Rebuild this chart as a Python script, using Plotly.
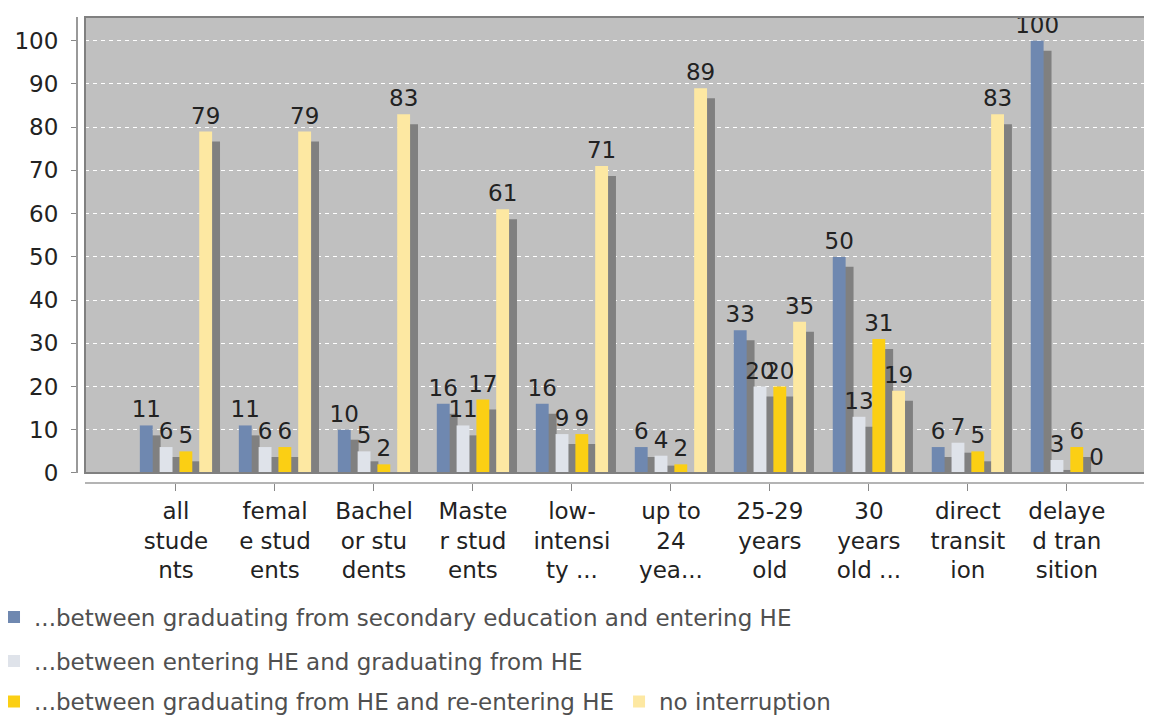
import plotly.graph_objs as go

categories = ["all<br>stude<br>nts", "femal<br>e stud<br>ents", "Bachel<br>or stu<br>dents",
              "Maste<br>r stud<br>ents", "low-<br>intensi<br>ty ...", "up to<br>24<br>yea...",
              "25-29<br>years<br>old", "30<br>years<br>old ...", "direct<br>transit<br>ion",
              "delaye<br>d tran<br>sition"]
sec_to_he = [11, 11, 10, 16, 16, 6, 33, 50, 6, 100]
within_he = [6, 6, 5, 11, 9, 4, 20, 13, 7, 3]
he_to_he = [5, 6, 2, 17, 9, 2, 20, 31, 5, 6]
no_interruption = [79, 79, 83, 61, 71, 89, 35, 19, 83, 0]

series = [
    ("...between graduating from secondary education and entering HE", sec_to_he, "#6f88b0", "legend"),
    ("...between entering HE and graduating from HE", within_he, "#dfe3ea", "legend2"),
    ("...between graduating from HE and re-entering HE", he_to_he, "#fbcf14", "legend3"),
    ("no interruption", no_interruption, "#fde8a2", "legend3"),
]

W = 0.13
offsets = [-0.365, -0.165, 0.035, 0.235]
FONT = "DejaVu Sans"
FS = 23

fig = go.Figure()
# shadows first
for (name, vals, col, lg), off in zip(series, offsets):
    fig.add_trace(go.Bar(x=categories, y=[max(v - 2.3, 0) for v in vals], width=W, offset=off + 0.08,
                         marker=dict(color="#808080", line=dict(width=0)), showlegend=False,
                         hoverinfo="skip"))
for (name, vals, col, lg), off in zip(series, offsets):
    fig.add_trace(go.Bar(x=categories, y=vals, width=W, offset=off, name=name, legend=lg,
                         marker=dict(color=col, line=dict(width=0)),
                         text=[str(v) for v in vals], textposition="outside", constraintext="none",
                         textfont=dict(family=FONT, size=FS, color="#222222"), cliponaxis=False))

leg = dict(xref="paper", yref="paper", x=-0.0772, xanchor="left", yanchor="middle", orientation="h",
           font=dict(size=FS, color="#505050"), bgcolor="rgba(0,0,0,0)")

fig.update_layout(
    width=1152, height=715, barmode="overlay",
    margin=dict(l=69, r=8, t=9, b=240, autoexpand=False),
    paper_bgcolor="white", plot_bgcolor="#c0c0c0",
    font=dict(family=FONT, size=FS, color="#222222"),
    xaxis=dict(domain=[0.00744, 1], anchor="free", position=0, range=[-0.919, 9.86],
               showline=True, linecolor="#b4b4b4", linewidth=2, ticks="outside", ticklen=7,
               tickcolor="#888888", showgrid=False, tickfont=dict(size=FS, color="#222222")),
    yaxis=dict(domain=[0.0215, 1], anchor="free", position=0, range=[0, 105.5],
               showline=True, linecolor="#999999", linewidth=2, ticks="outside", ticklen=5,
               tickcolor="#888888", dtick=10, showgrid=True, gridcolor="white", griddash="4px,4px",
               gridwidth=1, zeroline=False, ticklabelstandoff=8, tickfont=dict(size=FS, color="#222222")),
    legend=dict(leg, y=-0.2876),
    legend2=dict(leg, y=-0.382),
    legend3=dict(leg, y=-0.469),
    shapes=[dict(type="rect", xref="x domain", yref="y domain", x0=0, x1=1, y0=0, y1=1,
                 line=dict(color="#808080", width=2), layer="above")],
)

fig.write_html("out.html")
